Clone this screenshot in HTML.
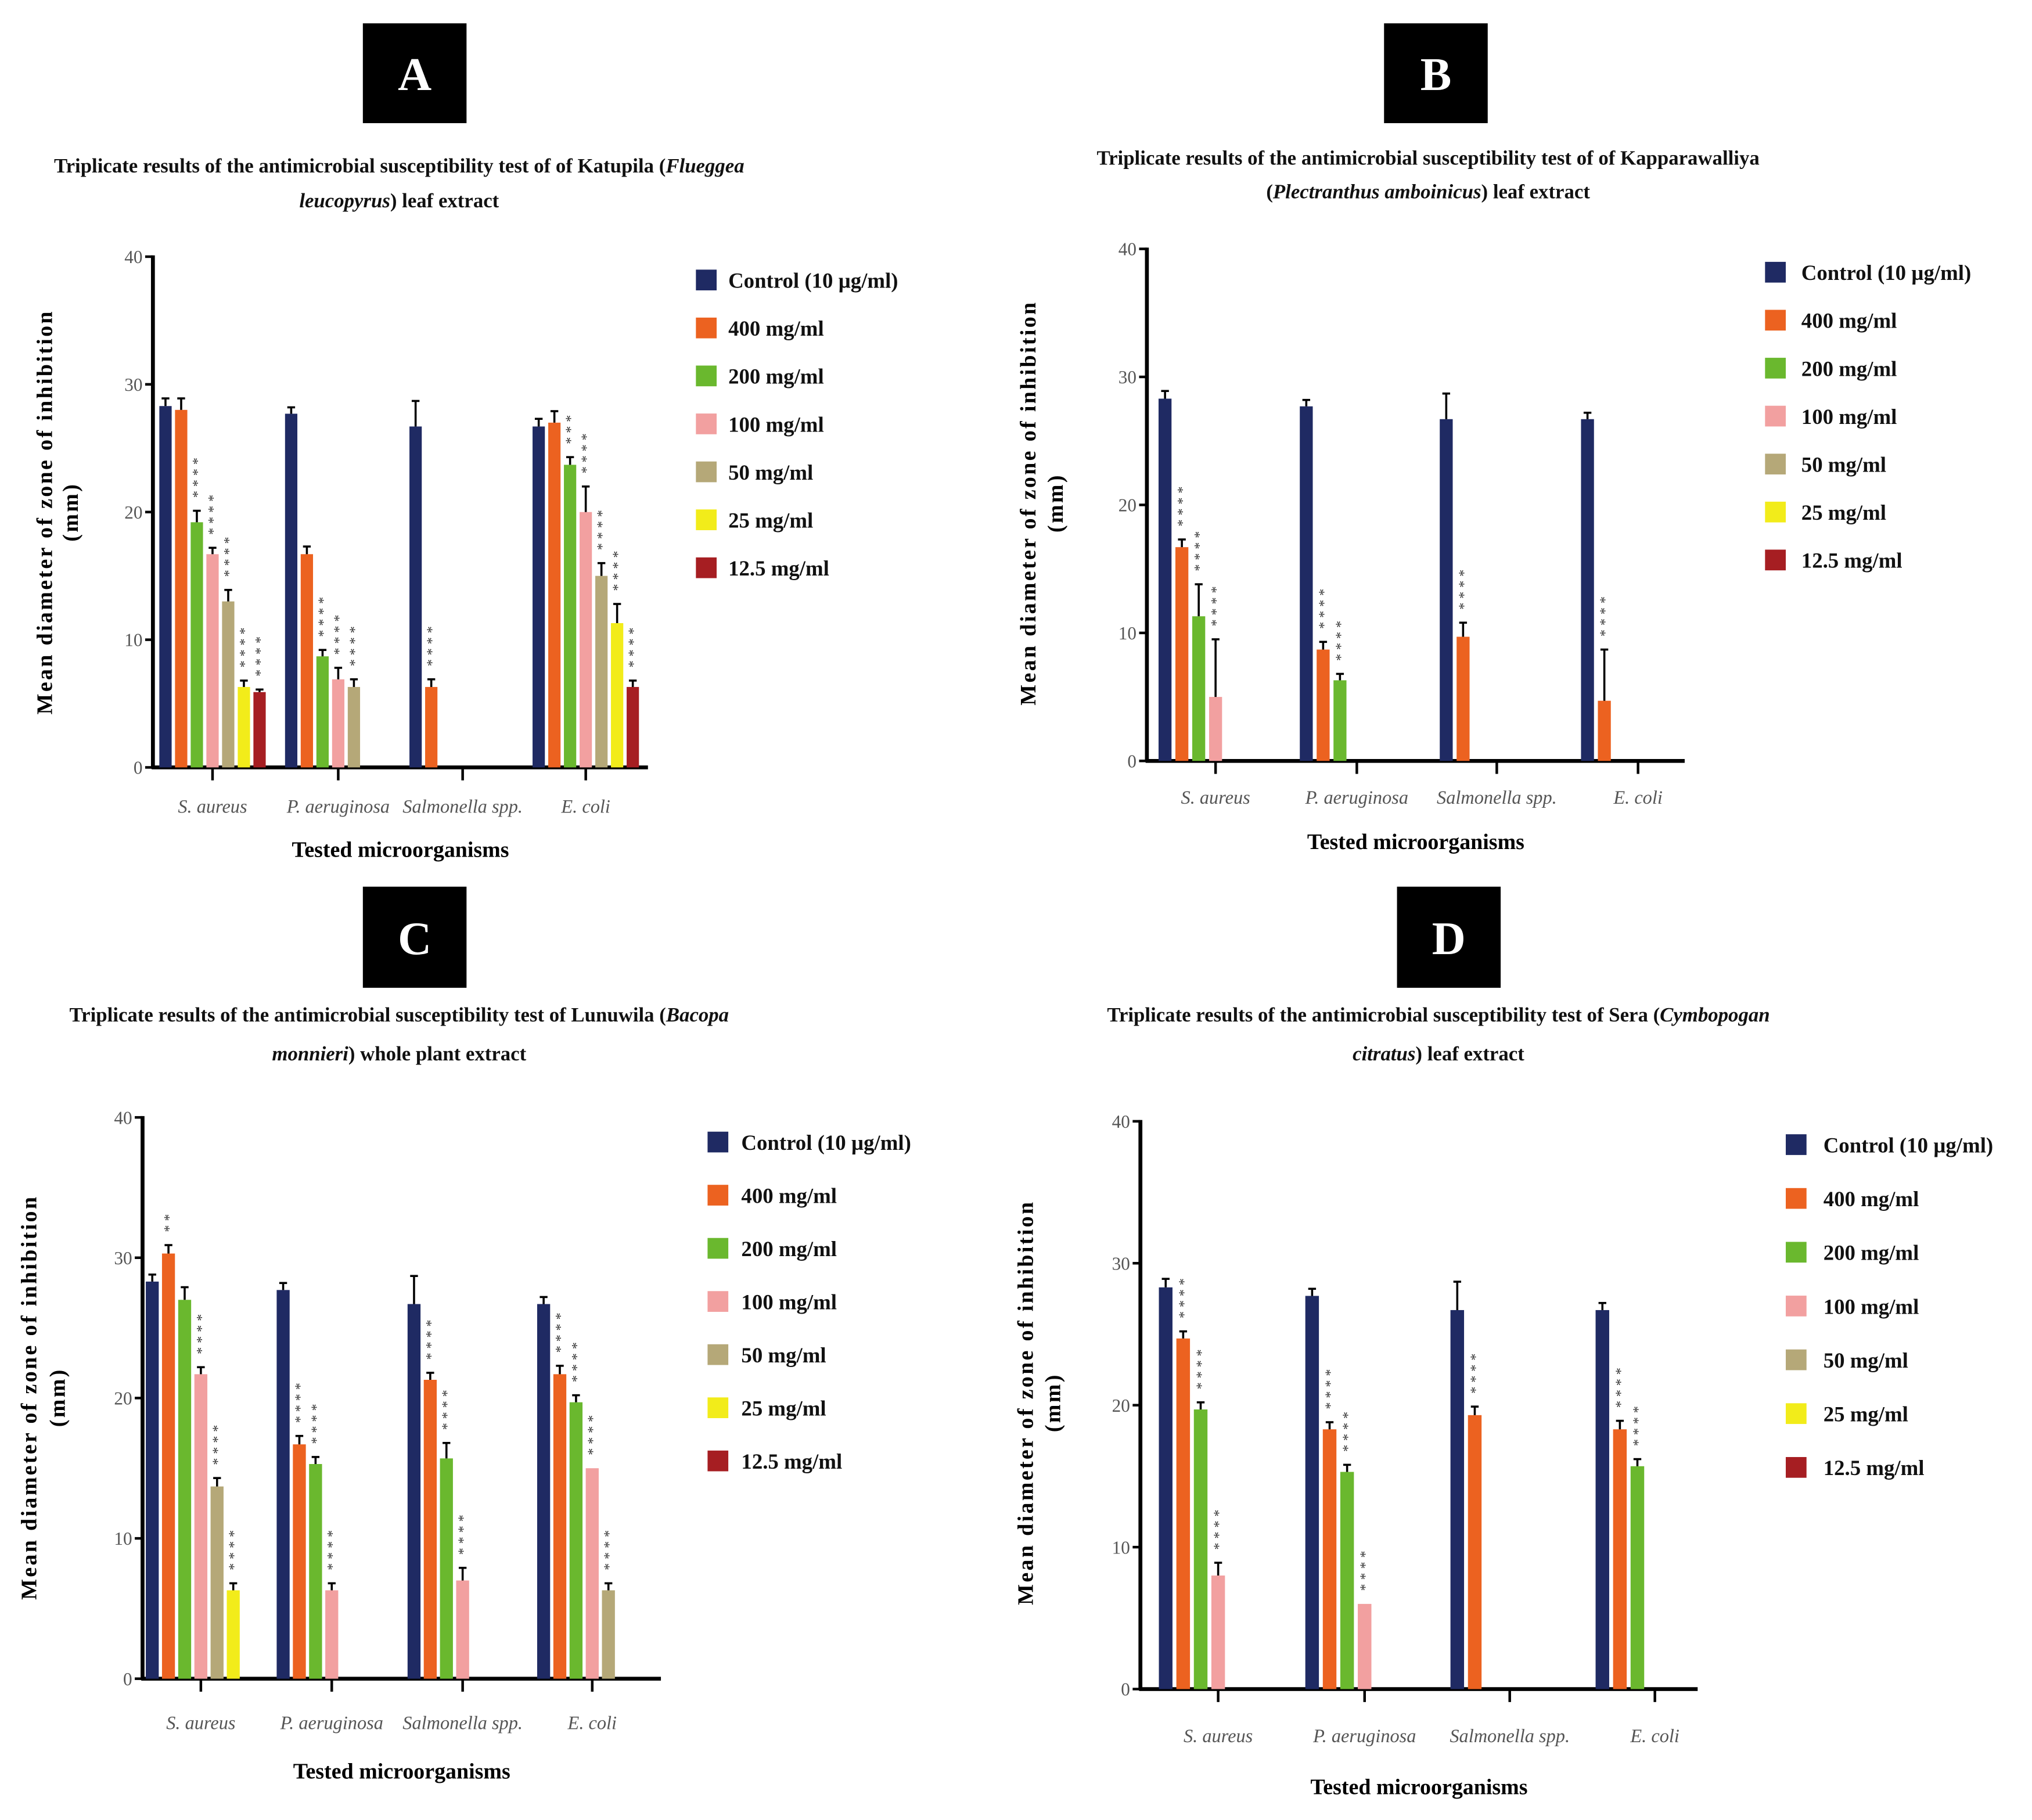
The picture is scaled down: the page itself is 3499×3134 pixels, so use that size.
<!DOCTYPE html>
<html><head><meta charset="utf-8"><style>
html,body{margin:0;padding:0;background:#fff;}
svg{display:block;}
text{font-family:"Liberation Serif",serif;}
</style></head><body>
<svg id="fig" width="3499" height="3134" viewBox="0 0 1568 1404" preserveAspectRatio="none" xmlns="http://www.w3.org/2000/svg"></svg>
<script>
const categories = ["S. aureus","P. aeruginosa","Salmonella spp.","E. coli"];
const seriesNames = ["Control (10 µg/ml)","400 mg/ml","200 mg/ml","100 mg/ml","50 mg/ml","25 mg/ml","12.5 mg/ml"];
const yTicks = [0,10,20,30,40];
// per-panel values: [category][series] (null = no bar)
const valuesA = [[28.3,28,19.2,16.7,13,6.3,5.9],[27.7,16.7,8.7,6.9,6.3,null,null],[26.7,6.3,null,null,null,null,null],[26.7,27,23.7,20,15,11.3,6.3]];
const errorsA = [[0.6,0.9,0.9,0.5,0.9,0.5,0.2],[0.5,0.6,0.5,0.9,0.6,0,0],[2,0.6,0,0,0,0,0],[0.6,0.9,0.6,2,1,1.5,0.5]];
const starsA  = [["","","****","****","****","****","****"],["","","****","****","****","",""],["","****","","","","",""],["","","***","****","****","****","****"]];
const valuesB = [[28.3,16.7,11.3,5,null,null,null],[27.7,8.7,6.3,null,null,null,null],[26.7,9.7,null,null,null,null,null],[26.7,4.7,null,null,null,null,null]];
const errorsB = [[0.6,0.6,2.5,4.5,0,0,0],[0.5,0.6,0.5,0,0,0,0],[2,1.1,0,0,0,0,0],[0.5,4,0,0,0,0,0]];
const starsB  = [["","****","****","****","","",""],["","****","****","","","",""],["","****","","","","",""],["","****","","","","",""]];
const valuesC = [[28.3,30.3,27,21.7,13.7,6.3,null],[27.7,16.7,15.3,6.3,null,null,null],[26.7,21.3,15.7,7,null,null,null],[26.7,21.7,19.7,15,6.3,null,null]];
const errorsC = [[0.5,0.6,0.9,0.5,0.6,0.5,0],[0.5,0.6,0.5,0.5,0,0,0],[2,0.5,1.1,0.9,0,0,0],[0.5,0.6,0.5,0,0.5,0,0]];
const starsC  = [["","**","","****","****","****",""],["","****","****","****","","",""],["","****","****","****","","",""],["","****","****","****","****","",""]];
const valuesD = [[28.3,24.7,19.7,8,null,null,null],[27.7,18.3,15.3,6,null,null,null],[26.7,19.3,null,null,null,null,null],[26.7,18.3,15.7,null,null,null,null]];
const errorsD = [[0.6,0.5,0.5,0.9,0,0,0],[0.5,0.5,0.5,0,0,0,0],[2,0.6,0,0,0,0,0],[0.5,0.6,0.5,0,0,0,0]];
const starsD  = [["","****","****","****","","",""],["","****","****","****","","",""],["","****","","","","",""],["","****","****","","","",""]];
const colors = ["#1f2a63","#ec6220","#6ab82e","#f2a0a0","#b5a878","#f2ec1a","#a61e22"];

const NS="http://www.w3.org/2000/svg";
const svg=document.getElementById('fig');
function mk(tag,attrs,parent,txt){const e=document.createElementNS(NS,tag);for(const k in attrs)e.setAttribute(k,attrs[k]);if(txt!==undefined)e.textContent=txt;(parent||svg).appendChild(e);return e;}

const panels=[
 {id:'a',letter:'A',box:[280,18,80,77],title:[["Triplicate results of the antimicrobial susceptibility test of of Katupila (","Flueggea"],["","leucopyrus",") leaf extract"]],tx:308,ty:[133,160],
  x0:118,x1:500,y0:592,y40:198,ticks:[164,261,357,452],pitch:12.1,bw:9.5,ytx:[40,60],ycy:395,xtitleY:661,catY:627,
  leg:[537,562,216,37],vals:valuesA,errs:errorsA,stars:starsA},
 {id:'b',letter:'B',box:[1068,18,80,77],title:[["Triplicate results of the antimicrobial susceptibility test of of Kapparawalliya"],["(","Plectranthus amboinicus",") leaf extract"]],tx:1102,ty:[127,153],
  x0:885,x1:1300,y0:587,y40:192,ticks:[938,1047,1155,1264],pitch:13,bw:10,ytx:[799,820],ycy:388,xtitleY:655,catY:620,
  leg:[1362,1390,210,37],vals:valuesB,errs:errorsB,stars:starsB},
 {id:'c',letter:'C',box:[280,684,80,78],title:[["Triplicate results of the antimicrobial susceptibility test of Lunuwila (","Bacopa"],["","monnieri",") whole plant extract"]],tx:308,ty:[788,818],
  x0:110,x1:510,y0:1295,y40:862,ticks:[155,256,357,457],pitch:12.5,bw:10,ytx:[28,50],ycy:1078,xtitleY:1372,catY:1334,
  leg:[546,572,881,41],vals:valuesC,errs:errorsC,stars:starsC},
 {id:'d',letter:'D',box:[1078,684,80,78],title:[["Triplicate results of the antimicrobial susceptibility test of Sera (","Cymbopogan"],["","citratus",") leaf extract"]],tx:1110,ty:[788,818],
  x0:880,x1:1310,y0:1303,y40:865,ticks:[940,1053,1165,1277],pitch:13.5,bw:10.5,ytx:[797,818],ycy:1082,xtitleY:1384,catY:1344,
  leg:[1378,1407,883,41.5],vals:valuesD,errs:errorsD,stars:starsD}
];

panels.forEach(p=>{
 const g=mk('g',{});
 
 
 const lb=mk('rect',{x:p.box[0],y:p.box[1],width:p.box[2],height:p.box[3],fill:'#000'},g);
 
 
 const lt=mk('text',{x:p.box[0]+p.box[2]/2,y:p.box[1]+p.box[3]/2+13,'text-anchor':'middle','font-size':36,'font-weight':'bold',fill:'#fff'},g,p.letter);
 
 
 p.title.forEach((line,i)=>{
  const t=mk('text',{x:p.tx,y:p.ty[i],'text-anchor':'middle','font-size':15.6,'font-weight':'bold',fill:'#111'},g);
  
  
  line.forEach((s,j)=>{ if(!s)return; const it=(j===1); mk('tspan',{'font-style':it?'italic':'normal'},t,s);});
 });
 const ys=v=>p.y0-(v/40)*(p.y0-p.y40);
 const ya=mk('line',{x1:p.x0,y1:p.y40-1,x2:p.x0,y2:p.y0+1,stroke:'#000','stroke-width':3},g);
 
 
 const xa=mk('line',{x1:p.x0-1,y1:p.y0,x2:p.x1,y2:p.y0,stroke:'#000','stroke-width':3},g);
 
 
 yTicks.forEach(v=>{
  mk('line',{x1:p.x0-6,y1:ys(v),x2:p.x0,y2:ys(v),stroke:'#000','stroke-width':2},g);
  const tl=mk('text',{x:p.x0-8,y:ys(v)+5,'text-anchor':'end','font-size':14,fill:'#555'},g,String(v));
  
  
 });
 const yt=mk('text',{transform:`translate(${p.ytx[0]},${p.ycy}) rotate(-90)`,'text-anchor':'middle','font-size':17,'font-weight':'bold','letter-spacing':1.5},g,'Mean diameter of zone of inhibition');
 
 
 mk('text',{transform:`translate(${p.ytx[1]},${p.ycy}) rotate(-90)`,'text-anchor':'middle','font-size':17,'font-weight':'bold','letter-spacing':1.5},g,'(mm)');
 categories.forEach((c,ci)=>{
  const cx=p.ticks[ci];
  mk('line',{x1:cx,y1:p.y0,x2:cx,y2:p.y0+10,stroke:'#000','stroke-width':2},g);
  const cl=mk('text',{x:cx,y:p.catY,'text-anchor':'middle','font-size':14.5,'font-style':'italic',fill:'#555'},g,c);
  
  
  const left=cx-3.5*p.pitch;
  p.vals[ci].forEach((v,si)=>{
   if(v===null)return;
   const bx=left+si*p.pitch+(p.pitch-p.bw)/2;
   const top=ys(v);
   const b=mk('rect',{x:bx,y:top,width:p.bw,height:p.y0-top,fill:colors[si]},g);
   
   
   const e=p.errs[ci][si];
   const mx=bx+p.bw/2;
   if(e>0){const et=ys(v+e);
    mk('line',{x1:mx,y1:top,x2:mx,y2:et,stroke:'#000','stroke-width':1.6},g);
    mk('line',{x1:mx-3,y1:et,x2:mx+3,y2:et,stroke:'#000','stroke-width':1.6},g);}
   const s=p.stars[ci][si];
   if(s){const sy=ys(v+e)-10;
    const st=mk('text',{transform:`translate(${mx+4},${sy}) rotate(-90)`,'font-size':11,fill:'#333','letter-spacing':3},g,s);
    
    }
  });
 });
 const xt=mk('text',{x:(p.x0+p.x1)/2,y:p.xtitleY,'text-anchor':'middle','font-size':17,'font-weight':'bold'},g,'Tested microorganisms');
 
 
 seriesNames.forEach((n,si)=>{
  const yy=p.leg[2]+si*p.leg[3];
  const le=mk('g',{},g);
  
  
  mk('rect',{x:p.leg[0],y:yy-8,width:16,height:16,fill:colors[si]},le);
  mk('text',{x:p.leg[1],y:yy+6,'font-size':16.5,'font-weight':'bold',fill:'#111'},le,n);
 });
});
</script>
</body></html>
